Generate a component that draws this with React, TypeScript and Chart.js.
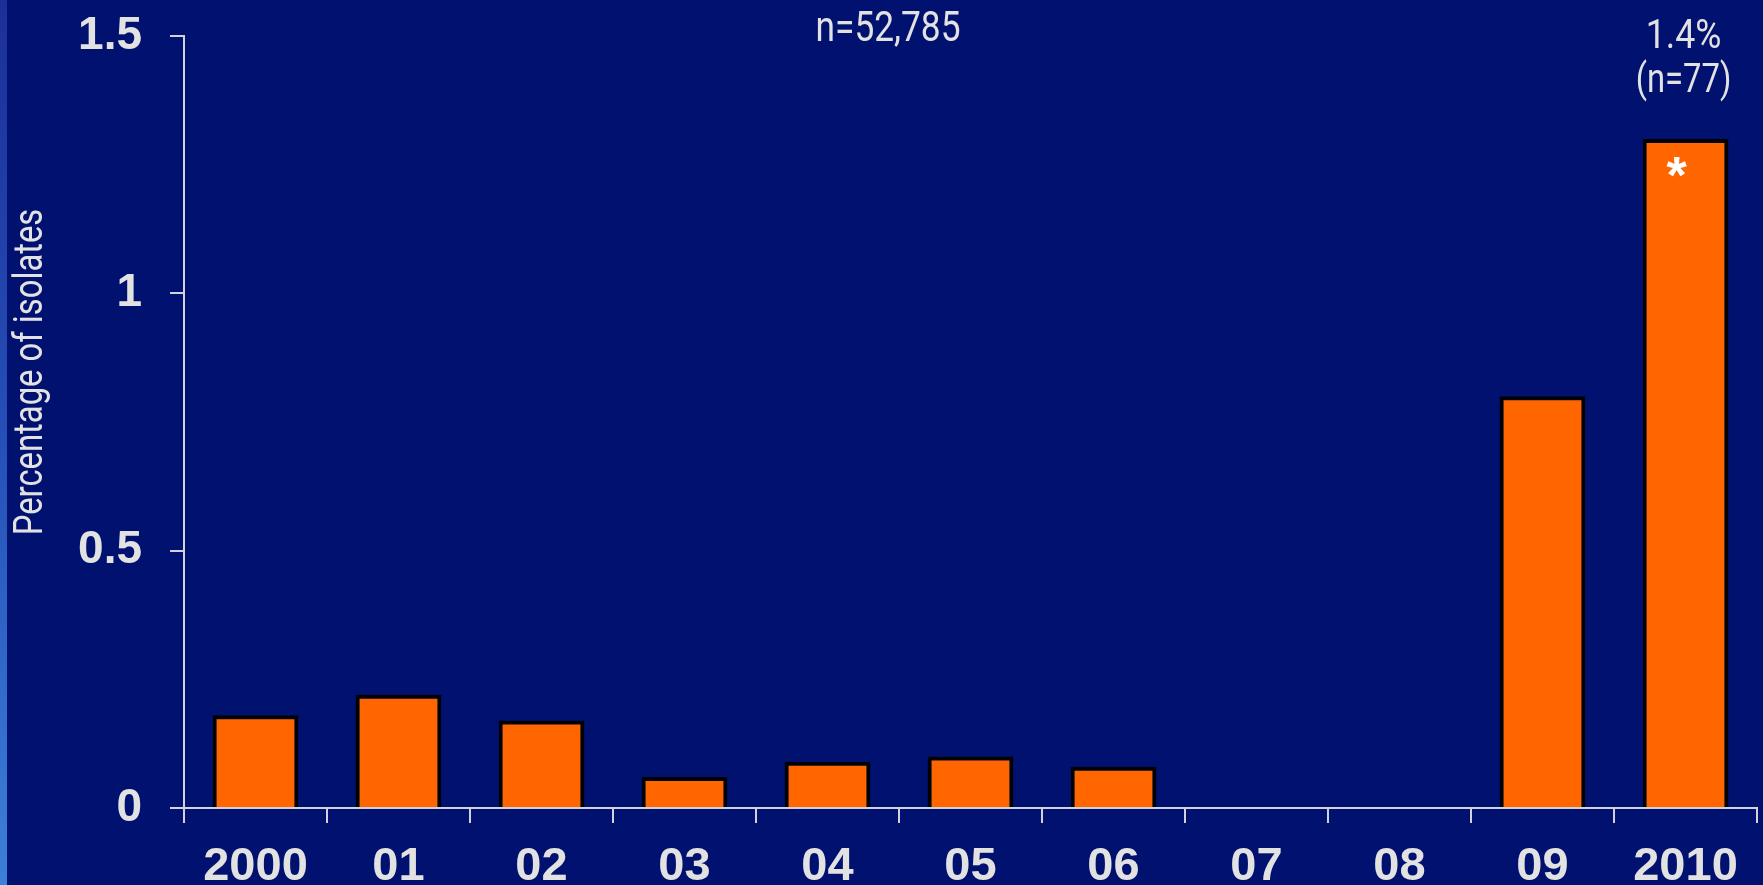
import { useEffect, useRef } from "react";
import { Chart, registerables } from "chart.js";

Chart.register(...registerables);

const categories = ["2000", "01", "02", "03", "04", "05", "06", "07", "08", "09", "2010"];
const percentages = [0.18, 0.22, 0.17, 0.06, 0.09, 0.1, 0.08, 0, 0, 0.8, 1.3];
const yTicks = [0, 0.5, 1, 1.5];
const yAxisTitle = "Percentage of isolates";
const totalLabel = "n=52,785";
const lastBarLabels = ["1.4%", "(n=77)"];
const lastBarMarker = "*";

const BG = "#011170";
const TEXT = "#e2e2e2";
const AXIS = "#d2d2da";
const NARROW = '"Liberation Sans Narrow", "Roboto", sans-serif';
const BOLD = '"Liberation Sans", Arial, sans-serif';
const SQUEEZE = 0.84;

function narrowText(ctx: any, text: string, x: number, y: number, size: number, rotate = false, squeeze = SQUEEZE) {
  ctx.save();
  ctx.translate(x, y);
  if (rotate) ctx.rotate(-Math.PI / 2);
  ctx.scale(squeeze, 1);
  ctx.font = `${size}px ${NARROW}`;
  ctx.textAlign = "center";
  ctx.textBaseline = "alphabetic";
  ctx.fillText(text, 0, 0);
  ctx.restore();
}

const decorPlugin = {
  id: "decor",
  beforeDraw(chart: any) {
    const { ctx, width, height } = chart;
    ctx.save();
    ctx.fillStyle = BG;
    ctx.fillRect(0, 0, width, height);
    const g = ctx.createLinearGradient(0, 0, 0, height);
    g.addColorStop(0, "#1c2f98");
    g.addColorStop(0.5, "#2550b8");
    g.addColorStop(1, "#3c80d8");
    ctx.fillStyle = g;
    ctx.fillRect(0, 0, 7, height);
    ctx.restore();
  },
  afterDraw(chart: any) {
    const { ctx } = chart;
    const x = chart.scales.x;
    ctx.save();
    ctx.fillStyle = TEXT;
    narrowText(ctx, yAxisTitle, 42, 372, 40, true, 0.82);
    narrowText(ctx, totalLabel, 888, 41, 42);
    const last = categories.length - 1;
    const cx = x.getPixelForValue(last);
    narrowText(ctx, lastBarLabels[0], cx - 2, 48, 41, false, 0.87);
    narrowText(ctx, lastBarLabels[1], cx - 2, 92, 40, false, 0.82);

    ctx.fillStyle = "#ffffff";
    ctx.font = `bold 52px ${BOLD}`;
    ctx.textAlign = "center";
    ctx.textBaseline = "alphabetic";
    const m = ctx.measureText(lastBarMarker);
    const yc = 167 + (m.actualBoundingBoxAscent - m.actualBoundingBoxDescent) / 2;
    ctx.fillText(lastBarMarker, cx - 9, yc);
    ctx.restore();
  },
};

export default function App() {
  const ref = useRef<HTMLCanvasElement | null>(null);
  useEffect(() => {
    if (!ref.current) return;
    const chart = new Chart(ref.current, {
      type: "bar",
      data: {
        labels: categories,
        datasets: [
          {
            data: percentages,
            backgroundColor: "#ff6600",
            borderColor: "#000000",
            borderWidth: 4,
            barPercentage: 1,
            categoryPercentage: 0.6,
          },
        ],
      },
      options: {
        animation: false,
        responsive: false,
        devicePixelRatio: 1,
        layout: { padding: { left: 0, right: 6, top: 36, bottom: 0 } },
        plugins: { legend: { display: false }, tooltip: { enabled: false } },
        scales: {
          x: {
            grid: {
              display: true,
              drawOnChartArea: false,
              drawTicks: true,
              tickLength: 15,
              tickColor: AXIS,
              lineWidth: 2,
              offset: true,
            },
            border: { display: true, color: AXIS, width: 2 },
            ticks: {
              color: TEXT,
              font: { family: BOLD, size: 47, weight: "bold" },
              padding: 16,
              maxRotation: 0,
              autoSkip: false,
            },
            afterFit(scale: any) {
              scale.height = 77;
              scale.paddingLeft = 0;
              scale.paddingRight = 0;
            },
          },
          y: {
            min: 0,
            max: 1.5,
            afterBuildTicks(scale: any) {
              scale.ticks = yTicks.map((v) => ({ value: v }));
            },
            grid: {
              display: true,
              drawOnChartArea: false,
              drawTicks: true,
              tickLength: 14,
              tickColor: AXIS,
              lineWidth: 2,
            },
            border: { display: true, color: AXIS, width: 2 },
            ticks: {
              color: TEXT,
              font: { family: BOLD, size: 46, weight: "bold" },
              padding: 28,
              callback: (v: any) => String(v),
            },
            afterFit(scale: any) {
              scale.width = 184;
              scale.paddingTop = 0;
              scale.paddingBottom = 0;
            },
          },
        },
      },
      plugins: [decorPlugin],
    });
    return () => chart.destroy();
  }, []);
  return (
    <div style={{ position: "fixed", left: 0, top: 0, width: 1763, height: 885, background: BG }}>
      <canvas ref={ref} width={1763} height={885} style={{ display: "block" }} />
    </div>
  );
}
